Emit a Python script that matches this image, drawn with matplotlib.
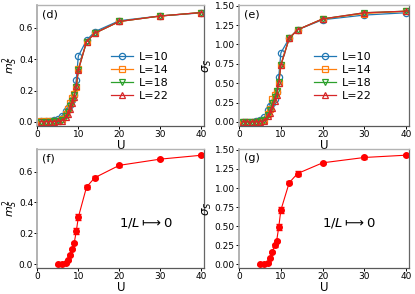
import matplotlib
matplotlib.use("Agg")
import matplotlib.pyplot as plt
import numpy as np

U = [1, 2, 3, 4, 5, 6, 7, 7.5, 8, 8.5, 9, 9.5, 10, 12, 14, 20, 30, 40]
labels = ["L=10", "L=14", "L=18", "L=22"]

m2 = {
    "L=10": [0.005, 0.006, 0.008, 0.012, 0.02, 0.04, 0.07, 0.09, 0.11, 0.14, 0.17, 0.27, 0.42, 0.52, 0.575, 0.645, 0.675, 0.695],
    "L=14": [0.003, 0.003, 0.004, 0.005, 0.008, 0.02, 0.05, 0.08, 0.12, 0.15, 0.18, 0.22, 0.34, 0.51, 0.565, 0.64, 0.675, 0.697],
    "L=18": [0.002, 0.002, 0.002, 0.003, 0.005, 0.012, 0.04, 0.06, 0.10, 0.13, 0.17, 0.22, 0.33, 0.51, 0.565, 0.64, 0.675, 0.697],
    "L=22": [0.001, 0.001, 0.001, 0.002, 0.003, 0.008, 0.03, 0.05, 0.08, 0.12, 0.16, 0.23, 0.33, 0.51, 0.565, 0.64, 0.675, 0.697],
}
sig = {
    "L=10": [0.0, 0.0, 0.0, 0.005, 0.02, 0.06, 0.15, 0.2, 0.25, 0.3, 0.38, 0.58, 0.89, 1.08, 1.19, 1.32, 1.38, 1.41],
    "L=14": [0.0, 0.0, 0.0, 0.0, 0.01, 0.03, 0.1, 0.17, 0.3, 0.35, 0.4, 0.5, 0.74, 1.08, 1.19, 1.33, 1.40, 1.43],
    "L=18": [0.0, 0.0, 0.0, 0.0, 0.005, 0.02, 0.09, 0.15, 0.25, 0.32, 0.4, 0.52, 0.73, 1.08, 1.19, 1.33, 1.41, 1.43],
    "L=22": [0.0, 0.0, 0.0, 0.0, 0.0, 0.01, 0.07, 0.12, 0.18, 0.27, 0.35, 0.5, 0.73, 1.08, 1.19, 1.33, 1.41, 1.43],
}

U_ext = [5, 6, 7, 7.5, 8, 8.5, 9, 9.5, 10, 12, 14, 20, 30, 40]
m2_ext = [0.0, 0.0, 0.01, 0.03, 0.06, 0.10, 0.14, 0.215, 0.305, 0.50, 0.56, 0.64, 0.68, 0.705]
m2_err = [0.003, 0.003, 0.004, 0.005, 0.006, 0.007, 0.008, 0.02, 0.02, 0.01, 0.01, 0.008, 0.008, 0.008]
sig_ext = [0.0, 0.0, 0.02, 0.08, 0.16, 0.25, 0.31, 0.49, 0.71, 1.07, 1.19, 1.33, 1.40, 1.43]
sig_err = [0.005, 0.005, 0.008, 0.01, 0.012, 0.015, 0.015, 0.04, 0.04, 0.02, 0.03, 0.015, 0.015, 0.015]

markers = ["o", "s", "v", "^"]
colors = ["C0", "C1", "C2", "C3"]

fig = plt.figure(figsize=(4.15, 2.94), dpi=100)
axd = fig.add_axes([0.090, 0.571, 0.402, 0.412])
axe = fig.add_axes([0.576, 0.571, 0.410, 0.412])
axf = fig.add_axes([0.090, 0.090, 0.402, 0.403])
axg = fig.add_axes([0.576, 0.090, 0.410, 0.403])

for ax, data in ((axd, m2), (axe, sig)):
    for lab, mk, c in zip(labels, markers, colors):
        ax.plot(U, data[lab], marker=mk, color=c, mfc="none", ms=4.5, lw=0.9, mew=0.9, label=lab)
    ax.legend(loc="center left", frameon=False, fontsize=8, handlelength=2.0,
              handletextpad=0.5, labelspacing=0.28, borderpad=0, borderaxespad=0,
              bbox_to_anchor=(0.44, 0.41))

axf.errorbar(U_ext, m2_ext, yerr=m2_err, color="red", marker="o", ms=4, lw=0.8, capsize=2, elinewidth=0.8)
axg.errorbar(U_ext, sig_ext, yerr=sig_err, color="red", marker="o", ms=4, lw=0.8, capsize=2, elinewidth=0.8)

for ax in (axf, axg):
    ax.text(0.49, 0.38, r"$1/L \longmapsto 0$", transform=ax.transAxes, fontsize=9.5, va="center")

for ax, tag in zip((axd, axe, axf, axg), ["(d)", "(e)", "(f)", "(g)"]):
    ax.set_xlim(0, 40.7)
    ax.set_xticks([0, 10, 20, 30, 40])
    ax.tick_params(labelsize=6.5, length=2, width=0.7, pad=1)
    ax.set_xlabel("U", fontsize=8.5, labelpad=0)
    ax.text(0.03, 0.965, tag, transform=ax.transAxes, fontsize=8, va="top")
    ax.spines["left"].set_color("0.65")
    ax.spines["top"].set_color("0.7")
    ax.spines["bottom"].set_color("0.35")
    ax.spines["right"].set_color("0.4")
    ax.spines["left"].set_linewidth(1.2)
    ax.spines["top"].set_linewidth(1.0)
    ax.spines["bottom"].set_linewidth(0.9)
    ax.spines["right"].set_linewidth(0.9)

axd.set_ylim(-0.027, 0.745)
axf.set_ylim(-0.02, 0.745)
for ax in (axd, axf):
    ax.set_yticks([0.0, 0.2, 0.4, 0.6])
    ax.set_ylabel(r"$m_S^2$", fontsize=8)
    ax.yaxis.set_label_coords(-0.105, 0.5)
axe.set_ylim(-0.055, 1.51)
axg.set_ylim(-0.04, 1.51)
for ax in (axe, axg):
    ax.set_yticks([0.0, 0.25, 0.5, 0.75, 1.0, 1.25, 1.5])
    ax.set_ylabel(r"$\sigma_S$", fontsize=8.5)
    ax.yaxis.set_label_coords(-0.145, 0.5)

fig.savefig("out.png", dpi=100)
